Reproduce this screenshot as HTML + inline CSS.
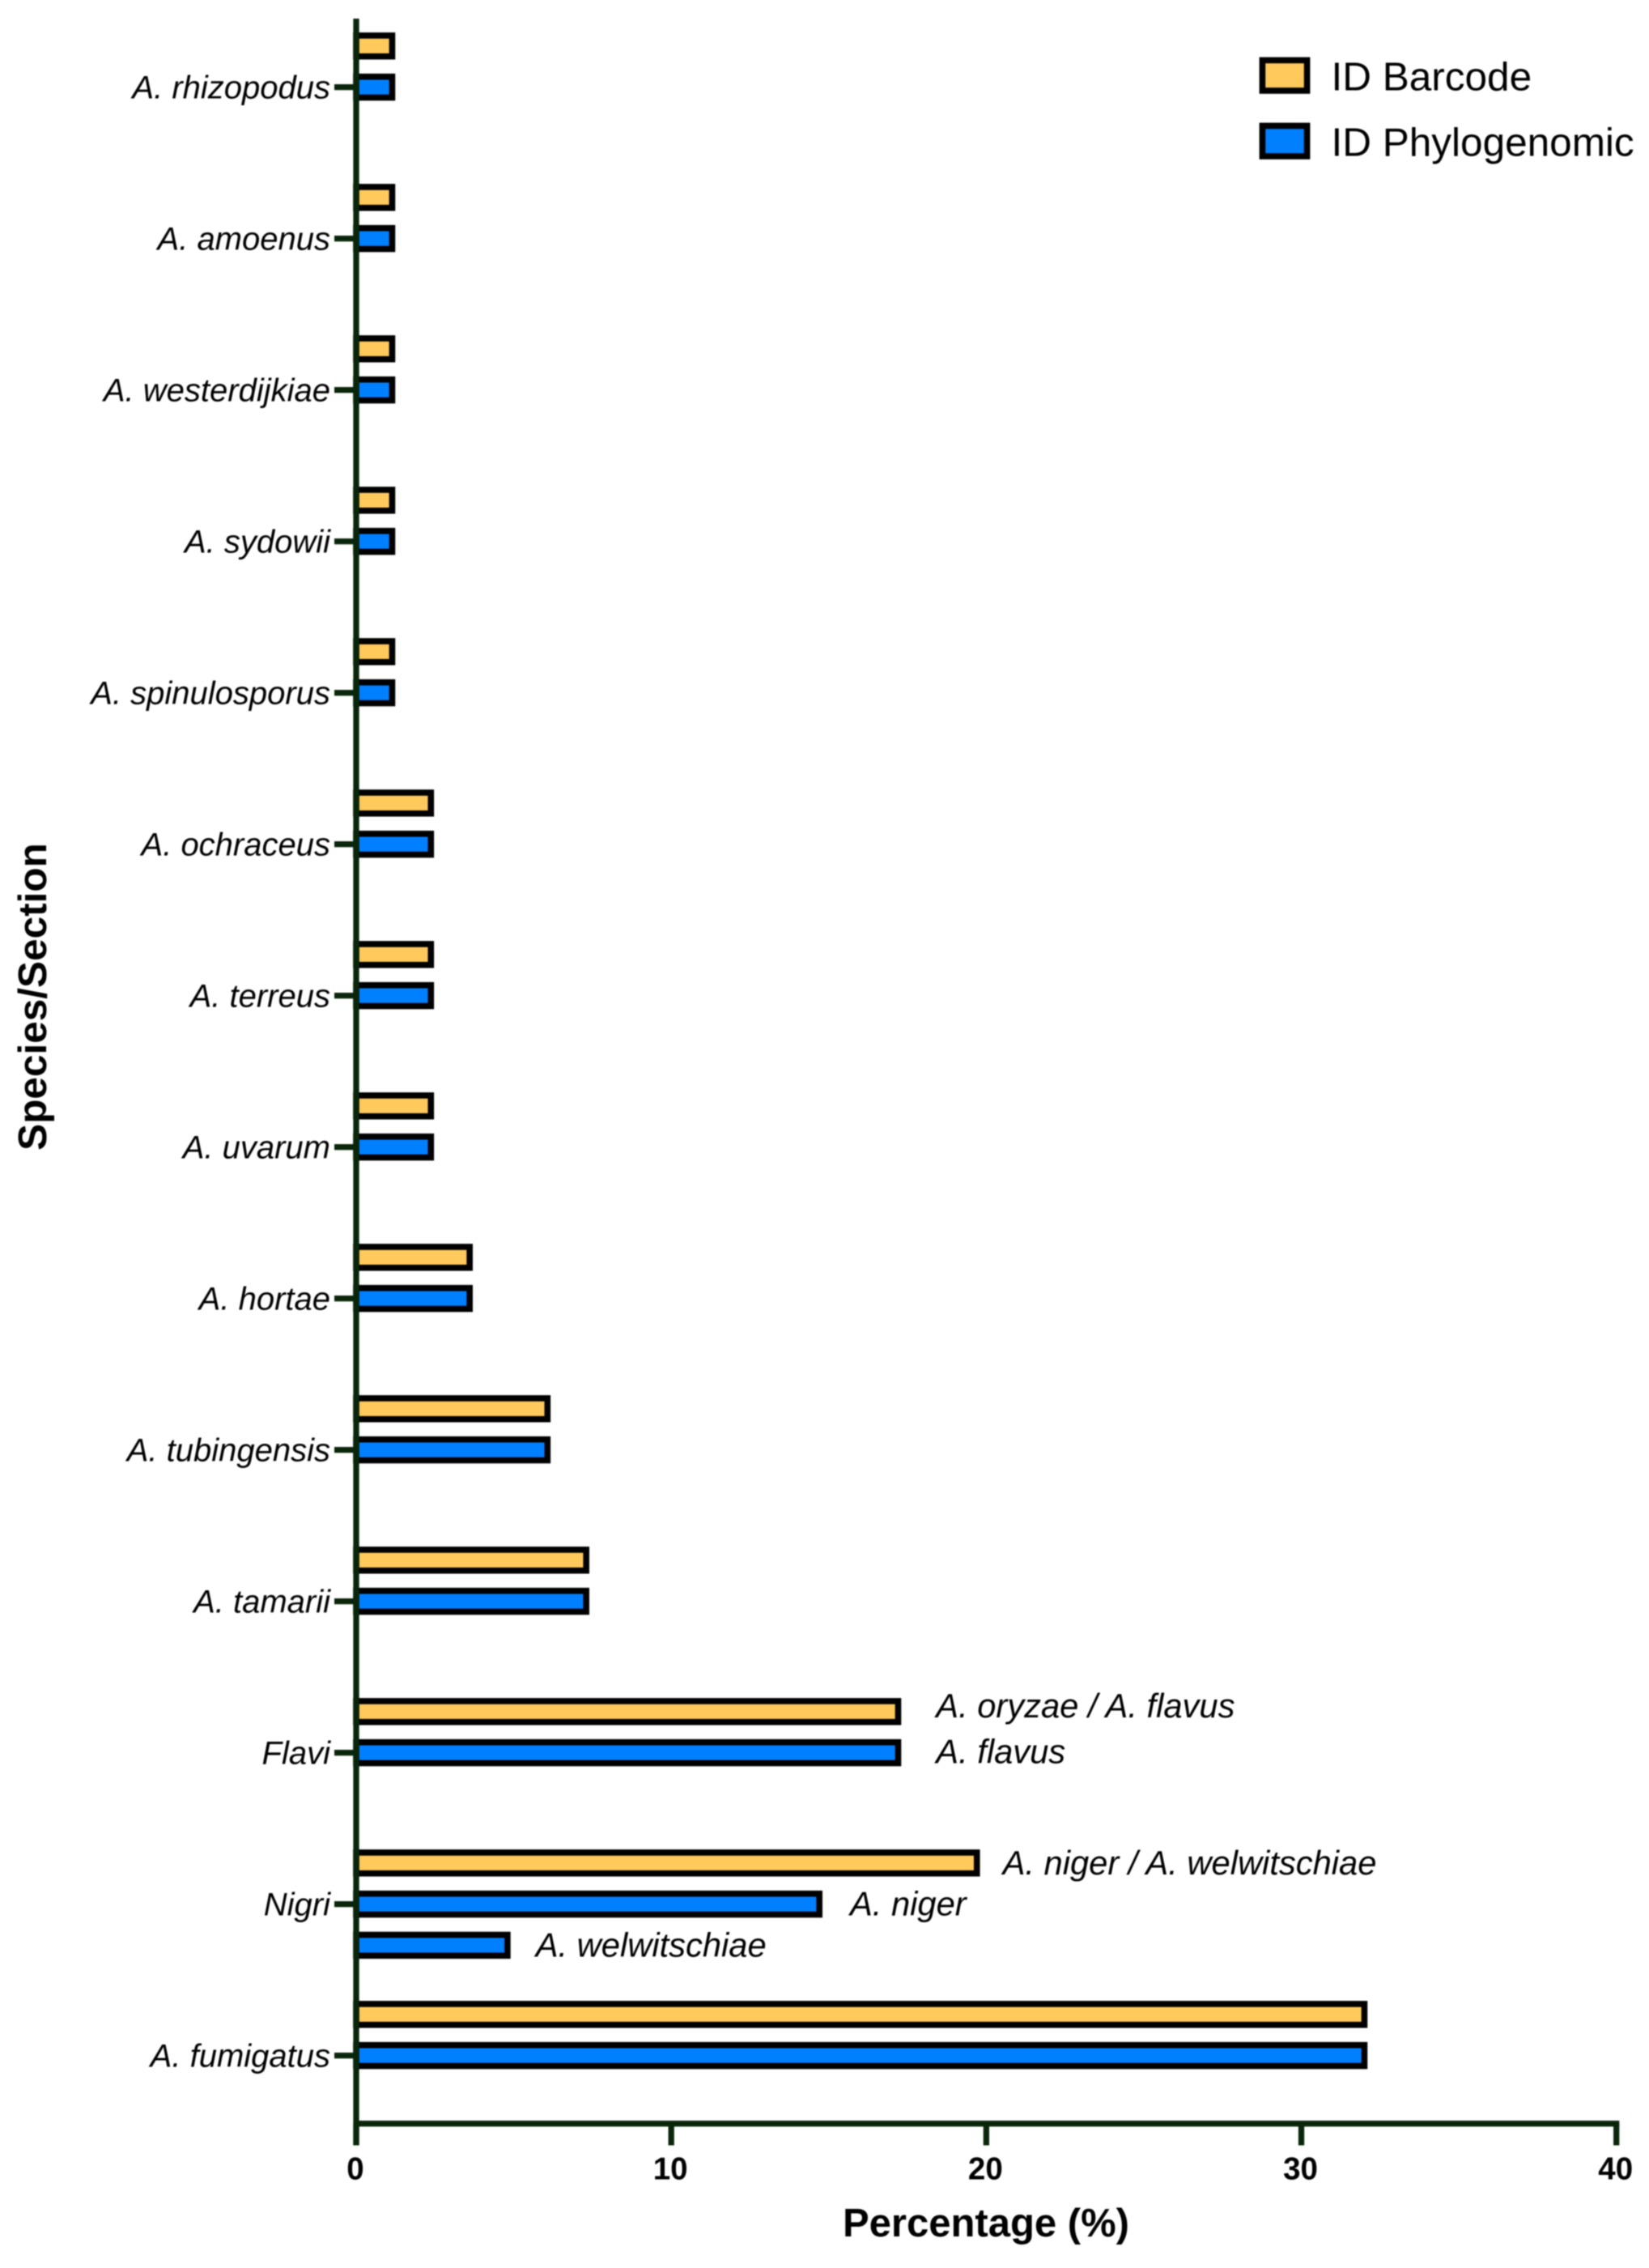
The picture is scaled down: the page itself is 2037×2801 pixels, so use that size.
<!DOCTYPE html>
<html lang="en">
<head>
<meta charset="utf-8">
<title>Species identification chart</title>
<style>
  html, body { margin: 0; padding: 0; background: #fff; }
  #chart { display: block; width: 2037px; height: 2801px; font-family: "Liberation Sans", Arial, sans-serif; }
  #plot { filter: blur(0.7px); }
  .cat { font-size: 40px; font-style: italic; fill: #000; text-anchor: end; }
  .note { font-size: 41.7px; font-style: italic; fill: #000; }
  .tick-label { font-size: 38.5px; font-weight: bold; fill: #000; text-anchor: middle; }
  .title { font-size: 49px; font-weight: bold; fill: #000; text-anchor: middle; }
  .y-title { font-size: 49.5px; }
  .legend-text { font-size: 49.5px; fill: #000; }
</style>
</head>
<body>
<svg id="chart" xmlns="http://www.w3.org/2000/svg" width="2037" height="2801" viewBox="0 0 2037 2801">
  <rect x="0" y="0" width="2037" height="2801" fill="#fff"/>
  <g id="plot">
    <g id="bars"></g>
    <g id="notes"></g>
    <g id="y-axis"></g>
    <g id="x-axis"></g>
    <text class="title" x="1218" y="2762">Percentage (%)</text>
    <text class="title y-title" transform="translate(57 1231) rotate(-90)">Species/Section</text>
    <g>
      <g>
        <rect x="1559.4" y="74.4" width="55.2" height="37.6" fill="#FFC95C" stroke="#000" stroke-width="7.6"/>
        <text class="legend-text" x="1644.5" y="111.5">ID Barcode</text>
      </g>
      <g>
        <rect x="1559.4" y="155.4" width="55.2" height="37.6" fill="#0080FF" stroke="#000" stroke-width="7.6"/>
        <text class="legend-text" x="1644.5" y="192.5">ID Phylogenomic</text>
      </g>
    </g>
  </g>
</svg>
<script>
// Chart data (percentages)
const categories = ["A. rhizopodus", "A. amoenus", "A. westerdijkiae", "A. sydowii", "A. spinulosporus", "A. ochraceus", "A. terreus", "A. uvarum", "A. hortae", "A. tubingensis", "A. tamarii", "Flavi", "Nigri", "A. fumigatus"];
const barcodeValues = [1.24, 1.24, 1.24, 1.24, 1.24, 2.47, 2.47, 2.47, 3.7, 6.17, 7.4, 17.3, 19.8, 32.1];
const phylogenomicValues = [1.24, 1.24, 1.24, 1.24, 1.24, 2.47, 2.47, 2.47, 3.7, 6.17, 7.4, 17.3, 14.8, 32.1];
const extraPhylogenomicValues = [null, null, null, null, null, null, null, null, null, null, null, null, 4.9, null];
const barcodeNotes = [null, null, null, null, null, null, null, null, null, null, null, "A. oryzae / A. flavus", "A. niger / A. welwitschiae", null];
const phylogenomicNotes = [null, null, null, null, null, null, null, null, null, null, null, "A. flavus", "A. niger", null];
const extraPhylogenomicNotes = [null, null, null, null, null, null, null, null, null, null, null, null, "A. welwitschiae", null];
const xTickValues = [0, 10, 20, 30, 40];

// Layout
const SVG_NS = "http://www.w3.org/2000/svg";
const X0 = 440, X40 = 1996.7, XMAX = 40;
const Y_FIRST = 107.6, Y_STEP = 187;
const AXIS_Y = 2622.7, AXIS_TOP = 23, AXIS_END = 2649.5;
const BAR_OFFSET = 50.8, BAR_H = 25.8, BAR_STROKE = 7.6;
const AXIS_COLOR = "#0a260a", AXIS_W = 7.3;
const BARCODE_COLOR = "#FFC95C", PHYLO_COLOR = "#0080FF";
const xScale = v => X0 + (v / XMAX) * (X40 - X0);
const yScale = i => Y_FIRST + i * Y_STEP;
const slug = s => s.toLowerCase().replace(/[^a-z]+/g, "-").replace(/^-|-$/g, "");

const barsG = document.getElementById("bars");
const notesG = document.getElementById("notes");
const yAxisG = document.getElementById("y-axis");
const xAxisG = document.getElementById("x-axis");

function line(parent, x1, y1, x2, y2, name) {
  const el = document.createElementNS(SVG_NS, "line");
  el.setAttribute("x1", x1);
  el.setAttribute("y1", y1);
  el.setAttribute("x2", x2);
  el.setAttribute("y2", y2);
  el.setAttribute("stroke", AXIS_COLOR);
  el.setAttribute("stroke-width", AXIS_W);
  
  
  parent.appendChild(el);
}

function bar(value, cy, color, name) {
  const el = document.createElementNS(SVG_NS, "rect");
  el.setAttribute("x", X0);
  el.setAttribute("y", cy - BAR_H / 2);
  el.setAttribute("width", Math.max(0, xScale(value) - BAR_STROKE / 2 - X0));
  el.setAttribute("height", BAR_H);
  el.setAttribute("fill", color);
  el.setAttribute("stroke", "#000");
  el.setAttribute("stroke-width", BAR_STROKE);
  
  
  barsG.appendChild(el);
}

function note(text, value, cy, dx, dy) {
  const el = document.createElementNS(SVG_NS, "text");
  el.setAttribute("class", "note");
  el.setAttribute("x", xScale(value) + dx);
  el.setAttribute("y", cy + dy + 14);
  el.textContent = text;
  
  
  notesG.appendChild(el);
}

categories.forEach((cat, i) => {
  const cy = yScale(i);
  const key = slug(cat);
  bar(barcodeValues[i], cy - BAR_OFFSET, BARCODE_COLOR, "bar-barcode-" + key);
  bar(phylogenomicValues[i], cy, PHYLO_COLOR, "bar-phylogenomic-" + key);
  if (extraPhylogenomicValues[i] !== null) {
    bar(extraPhylogenomicValues[i], cy + BAR_OFFSET, PHYLO_COLOR, "bar-phylogenomic-extra-" + key);
  }
  if (barcodeNotes[i]) {
    note(barcodeNotes[i], barcodeValues[i], cy - BAR_OFFSET, cat === "Flavi" ? 43 : 28, cat === "Flavi" ? -7 : 0);
  }
  if (phylogenomicNotes[i]) {
    note(phylogenomicNotes[i], phylogenomicValues[i], cy, cat === "Flavi" ? 43 : 34, cat === "Flavi" ? -1 : 0);
  }
  if (extraPhylogenomicNotes[i]) {
    note(extraPhylogenomicNotes[i], extraPhylogenomicValues[i], cy + BAR_OFFSET, 31, 0);
  }

  line(yAxisG, 413, cy, X0, cy, "y-tick-" + key);

  const label = document.createElementNS(SVG_NS, "text");
  label.setAttribute("class", "cat");
  label.setAttribute("x", 408);
  label.setAttribute("y", cy + 13.8);
  label.textContent = cat;
  
  
  yAxisG.appendChild(label);
});

line(yAxisG, X0, AXIS_TOP, X0, AXIS_END, "y-axis-line");
line(xAxisG, X0, AXIS_Y, X40 + AXIS_W / 2, AXIS_Y, "x-axis-line");

xTickValues.forEach(v => {
  line(xAxisG, xScale(v), AXIS_Y, xScale(v), AXIS_END, "x-tick-" + v);
  const t = document.createElementNS(SVG_NS, "text");
  t.setAttribute("class", "tick-label");
  t.setAttribute("x", xScale(v) - 1);
  t.setAttribute("y", 2691.5);
  t.textContent = String(v);
  
  
  xAxisG.appendChild(t);
});
</script>
</body>
</html>
